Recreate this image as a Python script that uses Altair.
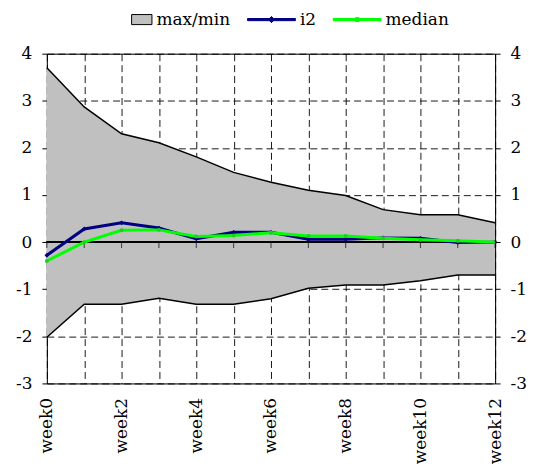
import altair as alt
import pandas as pd

weeks = list(range(13))
max_vals = [3.7, 2.87, 2.3, 2.11, 1.81, 1.48, 1.27, 1.1, 0.99, 0.69, 0.58, 0.58, 0.41]
min_vals = [-2.02, -1.32, -1.32, -1.19, -1.32, -1.32, -1.2, -0.98, -0.91, -0.91, -0.82, -0.7, -0.7]
i2_vals = [-0.28, 0.28, 0.41, 0.3, 0.07, 0.21, 0.21, 0.06, 0.06, 0.09, 0.08, -0.01, 0.0]
median_vals = [-0.4, 0.0, 0.25, 0.26, 0.12, 0.14, 0.2, 0.13, 0.13, 0.08, 0.05, 0.03, 0.0]
y_ticks = [-3, -2, -1, 0, 1, 2, 3, 4]
series_names = ["max/min", "i2", "median"]
series_colors = ["#c0c0c0", "#000080", "#00ff00"]
series_edges = ["#000000", "#000080", "#00ff00"]

df = pd.DataFrame({"week": weeks, "max": max_vals, "min": min_vals,
                   "i2": i2_vals, "median": median_vals})
legend_df = pd.DataFrame({"series": series_names})

FONT = "DejaVu Serif"
FS = 17

xscale = alt.Scale(domain=[0, 12], nice=False, zero=False)
yscale = alt.Scale(domain=[-3, 4], nice=False, zero=False)
fscale = alt.Scale(domain=series_names, range=series_colors)
stscale = alt.Scale(domain=series_names, range=series_edges)

box_path = "M0.15,-0.21H1V0.21H0.15Z"
i2_path = "M-1,-0.045H1V0.045H-1Z M0,-0.13L0.13,0L0,0.13L-0.13,0Z"
med_path = "M-1,-0.045H1V0.045H-1Z M-0.08,-0.08H0.08V0.08H-0.08Z"
sscale = alt.Scale(domain=series_names, range=[box_path, i2_path, med_path])

DASH = [7, 4]
x_axis = alt.Axis(values=weeks, labelExpr="datum.value % 2 == 0 ? 'week' + datum.value : ''",
                  labelAngle=270, ticks=False, labelPadding=14, grid=True, gridDash=DASH,
                  gridColor="black", gridOpacity=0.9, domainColor="black", labelFont=FONT,
                  labelFontSize=FS, labelColor="black", title=None, labelFlush=False,
                  labelOverlap=False)
y_axis = alt.Axis(values=y_ticks, orient="left", tickSize=5, tickColor="black", labelPadding=10,
                  grid=True, gridDash=DASH, gridColor="black", gridOpacity=0.9,
                  domainColor="black", labelFont=FONT, labelFontSize=FS, labelColor="black",
                  title=None, labelFlush=False, labelExpr="'' + datum.value")
y_axis_r = alt.Axis(values=y_ticks, orient="right", tickSize=5, tickColor="black", labelPadding=10,
                    grid=False, domainColor="black", labelFont=FONT, labelFontSize=FS,
                    labelColor="black", title=None, labelFlush=False, zindex=1,
                    labelExpr="'' + datum.value")
x_axis_top = alt.Axis(orient="top", labels=False, ticks=False, grid=False, domain=True,
                      domainColor="black", title=None, zindex=1)

legend = alt.Legend(
    title=None, orient="none", legendX=57, legendY=-59, direction="horizontal", columns=3,
    labelFont=FONT, labelFontSize=FS, labelColor="black", labelOffset=4, columnPadding=14,
    symbolSize=2304, padding=0, symbolOpacity=1, symbolStrokeWidth=1,
)

base = alt.Chart(df)
X = alt.X("week:Q", scale=xscale, axis=x_axis)

area = base.mark_area(opacity=1, color="#c0c0c0").encode(
    x=X, y=alt.Y("max:Q", scale=yscale, axis=y_axis), y2="min:Q")
max_line = base.mark_line(color="black", strokeWidth=1.5).encode(x=X, y=alt.Y("max:Q", scale=yscale))
min_line = base.mark_line(color="black", strokeWidth=1.5).encode(x=X, y=alt.Y("min:Q", scale=yscale))
zero_rule = base.mark_rule(color="black", strokeWidth=1.5).encode(y=alt.Y(datum=0, scale=yscale))
zero_ticks = base.mark_tick(color="black", orient="vertical", size=6, yOffset=3, thickness=1).encode(
    x=X, y=alt.Y(datum=0, scale=yscale))
i2_line = base.mark_line(strokeWidth=3, color="#000080").encode(
    x=X, y=alt.Y("i2:Q", scale=yscale))
i2_pts = base.mark_point(shape="diamond", filled=True, size=22, color="#000080", opacity=1).encode(
    x=X, y=alt.Y("i2:Q", scale=yscale))
med_line = base.mark_line(strokeWidth=3, color="#00ff00").encode(
    x=X, y=alt.Y("median:Q", scale=yscale))
med_pts = base.mark_point(shape="circle", filled=True, size=16, color="#22cc22", opacity=1).encode(
    x=X, y=alt.Y("median:Q", scale=yscale))
legend_layer = alt.Chart(legend_df).mark_point(opacity=0, strokeWidth=1).encode(
    fill=alt.Fill("series:N", scale=fscale, legend=legend),
    stroke=alt.Stroke("series:N", scale=stscale, legend=legend),
    shape=alt.Shape("series:N", scale=sscale, legend=legend))

main = alt.layer(area, max_line, min_line, zero_rule, zero_ticks, i2_line, i2_pts, med_line,
                 med_pts, legend_layer)
right = base.mark_line(opacity=0).encode(
    x=alt.X("week:Q", scale=xscale, axis=x_axis_top), y=alt.Y("max:Q", scale=yscale, axis=y_axis_r))

chart = alt.layer(main, right).resolve_scale(x="independent", y="independent").properties(
    width=450, height=331, autosize="none",
    padding={"left": 39, "top": 45, "right": 33, "bottom": 80},
).configure_view(stroke=None).configure(background="white")

chart.save("out.html", embed_options={"renderer": "svg", "actions": False})
